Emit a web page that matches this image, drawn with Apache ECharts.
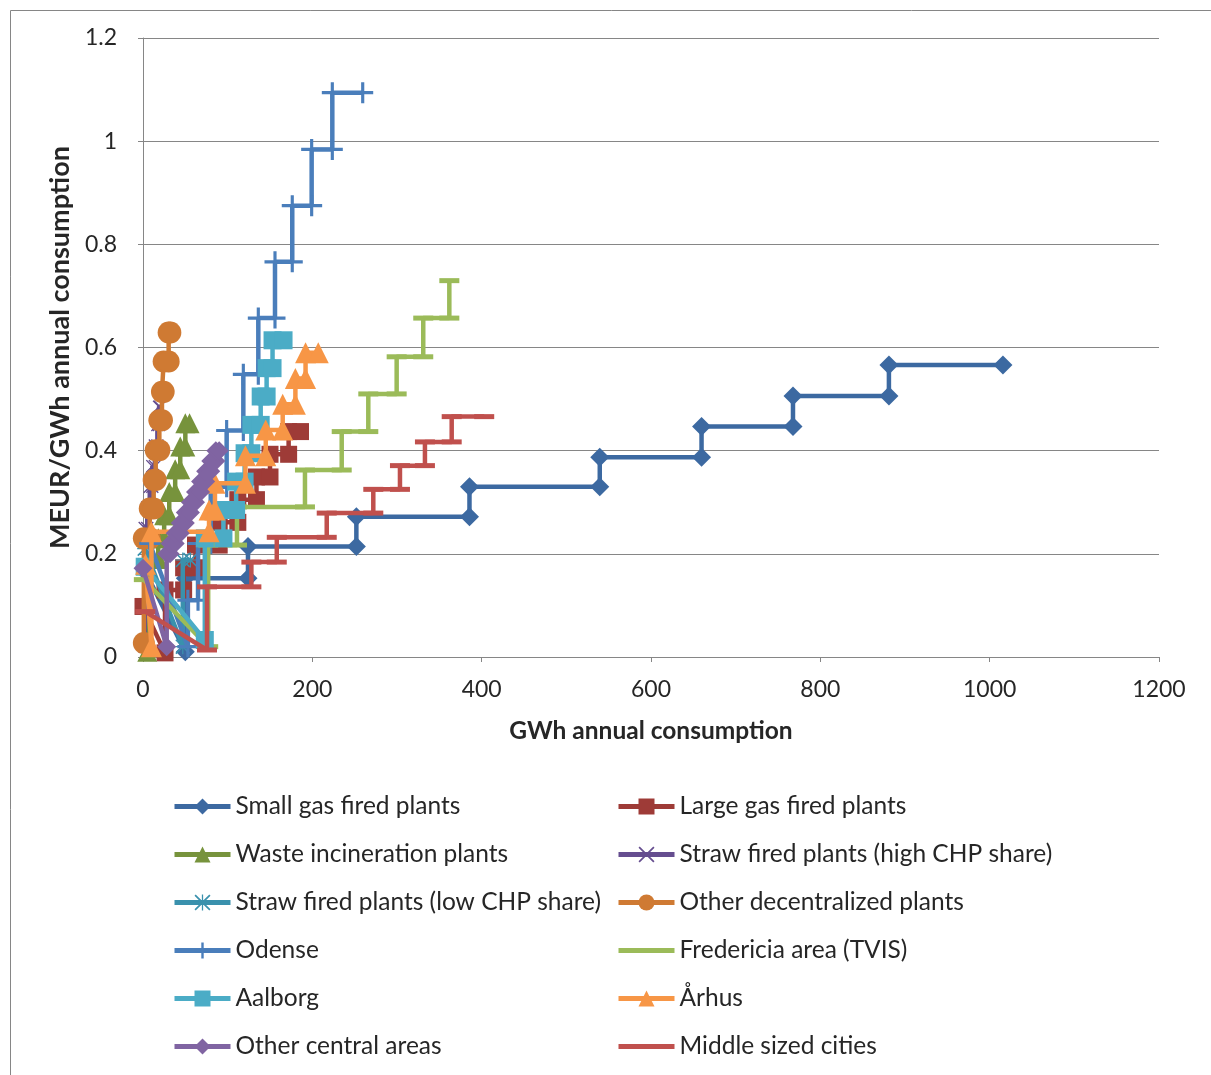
<!DOCTYPE html>
<html><head><meta charset="utf-8">
<script src="https://cdn.jsdelivr.net/npm/echarts@6/dist/echarts.min.js"></script>
<style>html,body{margin:0;padding:0;background:#fff}#c{width:1211px;height:1075px}</style>
</head><body><div id="c"></div>
<script>
// ---- data ----
const xTicks = [0, 200, 400, 600, 800, 1000, 1200];
const yTicks = [0, 0.2, 0.4, 0.6, 0.8, 1, 1.2];

const seriesNames = [
  'Small gas fired plants', 'Large gas fired plants', 'Waste incineration plants',
  'Straw fired plants (high CHP share)', 'Straw fired plants (low CHP share)', 'Other decentralized plants',
  'Odense', 'Fredericia area (TVIS)', 'Aalborg', 'Århus', 'Other central areas', 'Middle sized cities'
];

const smallGasX = [3, 50, 50, 124, 124, 252, 252, 385.6, 385.6, 539.5, 539.5, 659.7, 659.7, 767.7, 767.7, 881, 881, 1015.7];
const smallGasY = [0.165, 0.010, 0.1525, 0.1525, 0.214, 0.214, 0.272, 0.272, 0.330, 0.330, 0.387, 0.387, 0.447, 0.447, 0.506, 0.506, 0.566, 0.566];

const largeGasX = [0, 26, 26, 48, 48, 62, 62, 90, 90, 112, 112, 134, 134, 150, 150, 172, 172, 186];
const largeGasY = [0.098, 0.008, 0.13, 0.13, 0.173, 0.173, 0.217, 0.217, 0.261, 0.261, 0.305, 0.305, 0.349, 0.349, 0.393, 0.393, 0.437, 0.437];

const wasteX = [5, 5, 18, 18, 25, 25, 31, 31, 38, 38, 44, 44, 50, 50, 55];
const wasteY = [0.01, 0.19, 0.19, 0.23, 0.23, 0.275, 0.275, 0.32, 0.32, 0.364, 0.364, 0.408, 0.408, 0.453, 0.453];

const strawHighX = [2, 2, 5, 5, 8, 8, 11, 11, 14, 14, 17, 17, 19, 19, 20];
const strawHighY = [0.02, 0.25, 0.25, 0.29, 0.29, 0.33, 0.33, 0.37, 0.37, 0.41, 0.41, 0.45, 0.45, 0.485, 0.485];

const strawLowX = [2, 47, 47, 56];
const strawLowY = [0.21, 0.02, 0.188, 0.188];

const otherDecX = [1, 1, 8, 8, 12.6, 12.6, 15, 15, 19.3, 19.3, 22.4, 22.4, 24.4, 24.4, 30.3, 30.3, 32.3];
const otherDecY = [0.027, 0.23, 0.23, 0.288, 0.288, 0.343, 0.343, 0.401, 0.401, 0.459, 0.459, 0.514, 0.514, 0.573, 0.573, 0.629, 0.629];

const odenseX = [8, 53, 53, 65, 65, 80, 80, 98.8, 98.8, 118.5, 118.5, 136.2, 136.2, 155.9, 155.9, 176.3, 176.3, 199.2, 199.2, 223.6, 223.6, 259.5];
const odenseY = [0.22, 0.02, 0.11, 0.11, 0.22, 0.22, 0.33, 0.33, 0.439, 0.439, 0.548, 0.548, 0.657, 0.657, 0.766, 0.766, 0.875, 0.875, 0.984, 0.984, 1.094, 1.094];

const fredX = [1, 77, 77, 111, 111, 191.3, 191.3, 234.7, 234.7, 266.1, 266.1, 299.6, 299.6, 331, 331, 361.8, 361.8];
const fredY = [0.15, 0.02, 0.217, 0.217, 0.291, 0.291, 0.3625, 0.3625, 0.437, 0.437, 0.51, 0.51, 0.582, 0.582, 0.657, 0.657, 0.7296];

const aalborgX = [2, 73, 73, 95, 95, 110, 110, 120, 120, 128, 128, 139, 139, 146, 146, 153, 153, 166];
const aalborgY = [0.175, 0.033, 0.23, 0.23, 0.285, 0.285, 0.34, 0.34, 0.395, 0.395, 0.45, 0.45, 0.505, 0.505, 0.56, 0.56, 0.614, 0.614];

const aarhusX = [3, 10, 10, 78, 78, 85, 85, 121, 121, 145, 145, 165, 165, 180, 180, 192, 192, 207];
const aarhusY = [0.18, 0.02, 0.243, 0.243, 0.285, 0.285, 0.337, 0.337, 0.39, 0.39, 0.44, 0.44, 0.49, 0.49, 0.54, 0.54, 0.59, 0.59];

const otherCentralX = [0, 28, 28, 32, 32, 38, 38, 44, 44, 50, 50, 56, 56, 62, 62, 68, 68, 74, 74, 80, 80, 86, 86, 90];
const otherCentralY = [0.172, 0.02, 0.2, 0.2, 0.22, 0.22, 0.24, 0.24, 0.26, 0.26, 0.28, 0.28, 0.30, 0.30, 0.32, 0.32, 0.34, 0.34, 0.36, 0.36, 0.38, 0.38, 0.40, 0.40];

const middleX = [2.7, 75.6, 75.6, 128, 128, 158, 158, 217, 217, 272, 272, 303.5, 303.5, 333, 333, 364.6, 364.6, 403];
const middleY = [0.088, 0.0136, 0.136, 0.136, 0.184, 0.184, 0.232, 0.232, 0.279, 0.279, 0.325, 0.325, 0.371, 0.371, 0.417, 0.417, 0.466, 0.466];

// ---- styling ----
const PLUS = 'path://M0,8.5H8.5V0H11.5V8.5H20V11.5H11.5V20H8.5V11.5H0Z';
const CROSS = 'path://M1.5,0L10,8.5L18.5,0L20,1.5L11.5,10L20,18.5L18.5,20L10,11.5L1.5,20L0,18.5L8.5,10L0,1.5Z';
const STAR = 'path://M0,9.2H9.2V0H10.8V9.2H20V10.8H10.8V20H9.2V10.8H0Z M1.5,0L10,8.5L18.5,0L20,1.5L11.5,10L20,18.5L18.5,20L10,11.5L1.5,20L0,18.5L8.5,10L0,1.5Z';
const LINEICON = 'path://M0,0H56V5H0Z';

const defs = [
  [smallGasX, smallGasY, '#3C69A1', 'diamond', 19],
  [largeGasX, largeGasY, '#9E3B37', 'rect', 17],
  [wasteX, wasteY, '#77933C', 'triangle', 20],
  [strawHighX, strawHighY, '#654D8F', CROSS, 13],
  [strawLowX, strawLowY, '#3A91AD', STAR, 15],
  [otherDecX, otherDecY, '#CF7A33', 'circle', 22],
  [odenseX, odenseY, '#4A7EBB', PLUS, 21],
  [fredX, fredY, '#9BBB59', 'rect', [20, 5]],
  [aalborgX, aalborgY, '#4BACC6', 'rect', 18],
  [aarhusX, aarhusY, '#F79646', 'triangle', 21],
  [otherCentralX, otherCentralY, '#8064A2', 'diamond', 19],
  [middleX, middleY, '#C0504D', 'rect', [20, 5]]
];

const series = defs.map((d, i) => ({
  name: seriesNames[i],
  type: 'line',
  data: d[0].map((x, k) => [x, d[1][k]]),
  color: d[2],
  symbol: d[3],
  symbolSize: d[4],
  showSymbol: true,
  lineStyle: { width: 4.5, color: d[2] },
  itemStyle: { color: d[2] },
  z: 2 + i * 0.01,
  animation: false
}));

const legendItem = (i) => {
  const it = { name: seriesNames[i] };
  if (i === 7 || i === 11) it.icon = LINEICON;
  return it;
};

const legendText = { fontSize: 24.5, fontFamily: 'Lato', color: '#262626' };
const legendCommon = {
  orient: 'vertical', top: 794, height: 340, itemWidth: 56, itemHeight: 20, itemGap: 23,
  textStyle: legendText, selectedMode: false, padding: 0,
  lineStyle: { width: 5 }
};

const option = {
  backgroundColor: '#ffffff',
  animation: false,
  textStyle: { fontFamily: 'Lato' },
  grid: { left: 143, right: 52, top: 38, bottom: 418, containLabel: false },
  xAxis: {
    type: 'value', min: xTicks[0], max: xTicks[xTicks.length - 1], interval: 200,
    name: 'GWh annual consumption', nameLocation: 'middle', nameGap: 62,
    nameTextStyle: { fontSize: 24.5, fontWeight: 'bold', color: '#262626', fontFamily: 'Lato' },
    axisLine: { show: true, lineStyle: { color: '#868686', width: 1 } },
    axisTick: { show: true, length: 5, lineStyle: { color: '#868686' } },
    axisLabel: { fontSize: 23, color: '#262626', margin: 21, fontFamily: 'Lato', formatter: (v) => String(v) },
    splitLine: { show: false }
  },
  yAxis: {
    type: 'value', min: yTicks[0], max: yTicks[yTicks.length - 1], interval: 0.2,
    name: 'MEUR/GWh annual consumption', nameLocation: 'middle', nameGap: 66,
    nameTextStyle: { fontSize: 27, fontWeight: 'bold', color: '#262626', fontFamily: 'Lato' },
    axisLine: { show: true, lineStyle: { color: '#868686', width: 1 } },
    axisTick: { show: true, length: 5, lineStyle: { color: '#868686' } },
    axisLabel: { fontSize: 23, color: '#262626', margin: 26, fontFamily: 'Lato', formatter: (v) => String(v) },
    splitLine: { show: true, lineStyle: { color: '#868686', width: 1 } }
  },
  legend: [
    Object.assign({ left: 172, data: [0, 2, 4, 6, 8, 10].map(legendItem) }, legendCommon),
    Object.assign({ left: 616, data: [1, 3, 5, 7, 9, 11].map(legendItem) }, legendCommon)
  ],
  graphic: [
    { type: 'rect', left: 8, top: 8, shape: { width: 1215, height: 1080 }, style: { fill: 'none', stroke: '#868686', lineWidth: 1 }, silent: true, z: -1 }
  ],
  series: series
};

const chart = echarts.init(document.getElementById('c'));
chart.setOption(option);
</script>
</body></html>
